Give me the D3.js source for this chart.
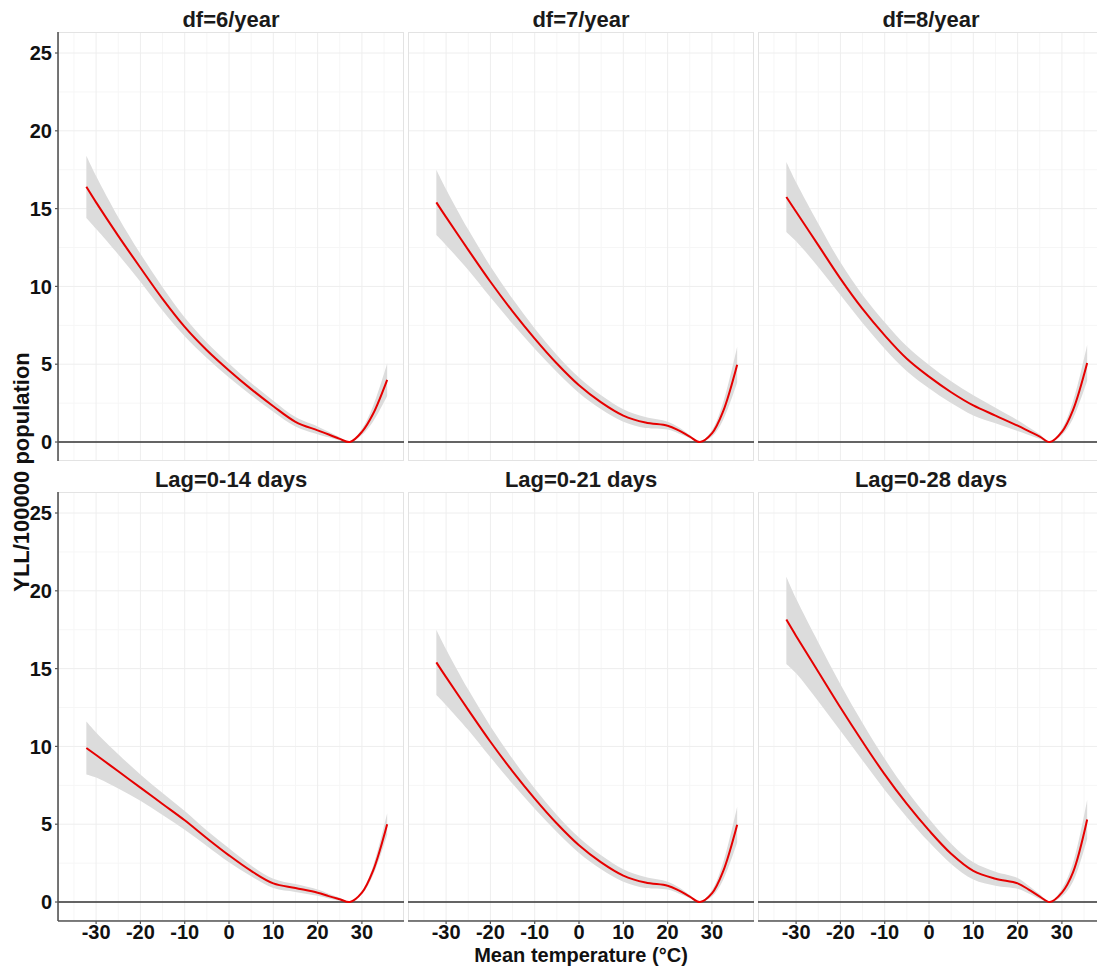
<!DOCTYPE html>
<style>
body { margin: 0; background: #fff; }
svg { display: block; font-family: "Liberation Sans", Arial, sans-serif; font-weight: bold; }
.grid-major { stroke: #eeeeee; stroke-width: 1; }
.grid-minor { stroke: #f6f6f6; stroke-width: 1; }
.border { fill: none; stroke: #e3e3e3; stroke-width: 1; }
.band { fill: #dcdcdc; }
.fit { fill: none; stroke: #e60000; stroke-width: 2; }
.zero { stroke: #333; stroke-width: 1.5; }
.axis-line { stroke: #555; stroke-width: 1.6; }
</style>
<svg width="1097" height="969"></svg>
<script src="https://d3js.org/d3.v7.min.js"></script>
<script>

var temps = [-32.2,-30,-25,-20,-15,-10,-5,0,5,10,15,20,22.5,25,27.3,30,32.5,35.7];

var titles = ["df=6/year", "df=7/year", "df=8/year", "Lag=0-14 days", "Lag=0-21 days", "Lag=0-28 days"];

// df=6/year
var fitDf6 = [16.4,15.4,13.25,11.2,9.2,7.4,5.9,4.6,3.4,2.3,1.3,0.75,0.48,0.2,0,0.65,1.8,4.0];
var hiDf6  = [18.4,17.1,14.45,12.1,9.95,8.0,6.4,5.05,3.8,2.65,1.6,1.0,0.66,0.3,0,0.85,2.3,5.05];
var loDf6  = [14.4,13.7,12.05,10.3,8.45,6.8,5.4,4.15,3.0,1.95,1.0,0.5,0.3,0.1,0,0.45,1.3,2.95];

// df=7/year (same model as lag 0-21)
var fitDf7 = [15.4,14.45,12.35,10.3,8.4,6.65,5.05,3.65,2.55,1.7,1.25,1.05,0.75,0.35,0,0.55,1.95,4.97];
var hiDf7  = [17.5,16.25,13.65,11.3,9.2,7.3,5.6,4.15,3.0,2.1,1.6,1.3,0.95,0.45,0,0.75,2.5,6.12];
var loDf7  = [13.3,12.65,11.05,9.3,7.6,6.0,4.5,3.15,2.1,1.3,0.9,0.8,0.55,0.25,0,0.35,1.4,3.82];

// df=8/year
var fitDf8 = [15.75,14.8,12.65,10.5,8.55,6.85,5.35,4.2,3.2,2.35,1.7,1.05,0.7,0.35,0,0.65,2.05,5.08];
var hiDf8  = [18.0,16.7,14.05,11.55,9.45,7.7,6.15,4.95,3.9,3.0,2.2,1.4,0.95,0.5,0,0.85,2.6,6.23];
var loDf8  = [13.5,12.9,11.25,9.45,7.65,6.0,4.55,3.45,2.5,1.7,1.2,0.7,0.45,0.2,0,0.45,1.5,3.93];

// Lag=0-14 days
var fitLag14 = [9.9,9.45,8.4,7.35,6.3,5.25,4.1,3.0,2.0,1.2,0.9,0.6,0.38,0.18,0,0.6,2.0,5.0];
var hiLag14  = [11.6,10.9,9.5,8.2,7.0,5.85,4.6,3.45,2.35,1.5,1.15,0.8,0.53,0.28,0,0.7,2.3,5.7];
var loLag14  = [8.2,8.0,7.3,6.5,5.6,4.65,3.6,2.55,1.65,0.9,0.65,0.4,0.23,0.08,0,0.5,1.7,4.3];

// Lag=0-21 days
var fitLag21 = fitDf7, hiLag21 = hiDf7, loLag21 = loDf7;

// Lag=0-28 days
var fitLag28 = [18.15,17.1,14.8,12.5,10.3,8.2,6.3,4.6,3.1,2.0,1.5,1.2,0.8,0.35,0,0.6,1.9,5.3];
var hiLag28  = [20.9,19.5,16.7,14.0,11.5,9.2,7.15,5.35,3.75,2.55,1.95,1.55,1.05,0.5,0,0.85,2.5,6.55];
var loLag28  = [15.3,14.7,12.9,11.0,9.1,7.2,5.45,3.85,2.45,1.45,1.05,0.85,0.55,0.2,0,0.35,1.3,4.05];

var xTicks = [-30,-20,-10,0,10,20,30];
var xMinor = [-35,-25,-15,-5,5,15,25,35];
var yTicks = [0,5,10,15,20,25];
var yMinor = [2.5,7.5,12.5,17.5,22.5];

var series = [
  [fitDf6, loDf6, hiDf6],
  [fitDf7, loDf7, hiDf7],
  [fitDf8, loDf8, hiDf8],
  [fitLag14, loLag14, hiLag14],
  [fitLag21, loLag21, hiLag21],
  [fitLag28, loLag28, hiLag28]
];

var svg = d3.select("svg");
svg.append("rect").attr("width", 1097).attr("height", 969).attr("fill", "#fff");

var panelW = 346, panelH = 429;
var panelLeft = [58, 408, 758];
var panelTop = [32, 492];

var x = d3.scaleLinear().domain([-38.6, 39.5]).range([0, panelW]);
var y = d3.scaleLinear().domain([-1.22, 26.35]).range([panelH, 0]);

var area = d3.area()
  .x(function(d) { return x(d.t); })
  .y0(function(d) { return y(d.lo); })
  .y1(function(d) { return y(d.hi); })
  .curve(d3.curveCatmullRom.alpha(0.5));

var line = d3.line()
  .x(function(d) { return x(d.t); })
  .y(function(d) { return y(d.fit); })
  .curve(d3.curveCatmullRom.alpha(0.5));

series.forEach(function(s, i) {
  var col = i % 3, row = Math.floor(i / 3);
  var g = svg.append("g")
    .attr("transform", "translate(" + panelLeft[col] + "," + panelTop[row] + ")");

  var data = temps.map(function(t, k) {
    return {t: t, fit: s[0][k], lo: s[1][k], hi: s[2][k]};
  });

  g.selectAll(".gxm").data(xMinor).enter().append("line")
    .attr("class", "grid-minor")
    .attr("x1", d => x(d)).attr("x2", d => x(d))
    .attr("y1", 0).attr("y2", panelH);
  g.selectAll(".gym").data(yMinor).enter().append("line")
    .attr("class", "grid-minor")
    .attr("x1", 0).attr("x2", panelW)
    .attr("y1", d => y(d)).attr("y2", d => y(d));
  g.selectAll(".gx").data(xTicks).enter().append("line")
    .attr("class", "grid-major")
    .attr("x1", d => x(d)).attr("x2", d => x(d))
    .attr("y1", 0).attr("y2", panelH);
  g.selectAll(".gy").data(yTicks).enter().append("line")
    .attr("class", "grid-major")
    .attr("x1", 0).attr("x2", panelW)
    .attr("y1", d => y(d)).attr("y2", d => y(d));

  g.append("rect").attr("class", "border")
    .attr("x", 0.5).attr("y", 0.5)
    .attr("width", panelW - 1).attr("height", panelH - 1);

  g.append("path").datum(data).attr("class", "band").attr("d", area);

  g.append("line").attr("class", "zero")
    .attr("x1", 0).attr("x2", panelW)
    .attr("y1", y(0)).attr("y2", y(0));

  g.append("path").datum(data).attr("class", "fit").attr("d", line);

  // strip title
  svg.append("text")
    .attr("x", panelLeft[col] + panelW / 2)
    .attr("y", panelTop[row] - 5)
    .attr("text-anchor", "middle")
    .style("font-size", "22px")
    .attr("fill", "#1a1a1a")
    .text(titles[i]);

  if (col === 0) {
    var ya = g.append("g");
    ya.append("line").attr("class", "axis-line")
      .attr("x1", 0).attr("x2", 0).attr("y1", 0).attr("y2", panelH);
    ya.selectAll(".yt").data(yTicks).enter().append("line")
      .attr("stroke", "#555").attr("stroke-width", 1.2)
      .attr("x1", -3).attr("x2", 0)
      .attr("y1", d => y(d)).attr("y2", d => y(d));
    ya.selectAll(".yl").data(yTicks).enter().append("text")
      .attr("x", -6).attr("y", d => y(d))
      .attr("dy", "0.36em")
      .attr("text-anchor", "end")
      .style("font-size", "20px")
      .attr("fill", "#111")
      .text(d => d);
  }

  if (row === 1) {
    var xa = g.append("g").attr("transform", "translate(0," + panelH + ")");
    xa.append("line").attr("class", "axis-line")
      .attr("x1", 0).attr("x2", panelW).attr("y1", 0).attr("y2", 0);
    xa.selectAll(".xt").data(xTicks).enter().append("line")
      .attr("stroke", "#555").attr("stroke-width", 1.2)
      .attr("x1", d => x(d)).attr("x2", d => x(d))
      .attr("y1", 0).attr("y2", 3);
    xa.selectAll(".xl").data(xTicks).enter().append("text")
      .attr("x", d => x(d)).attr("y", 18)
      .attr("text-anchor", "middle")
      .style("font-size", "20px")
      .attr("fill", "#111")
      .text(d => d);
  }
});

svg.append("text")
  .attr("x", 581).attr("y", 962)
  .attr("text-anchor", "middle")
  .style("font-size", "20px")
  .attr("fill", "#111")
  .text("Mean temperature (°C)");

svg.append("text")
  .attr("transform", "translate(29,472) rotate(-90)")
  .attr("text-anchor", "middle")
  .style("font-size", "22px")
  .attr("fill", "#111")
  .text("YLL/100000 population");

</script>
